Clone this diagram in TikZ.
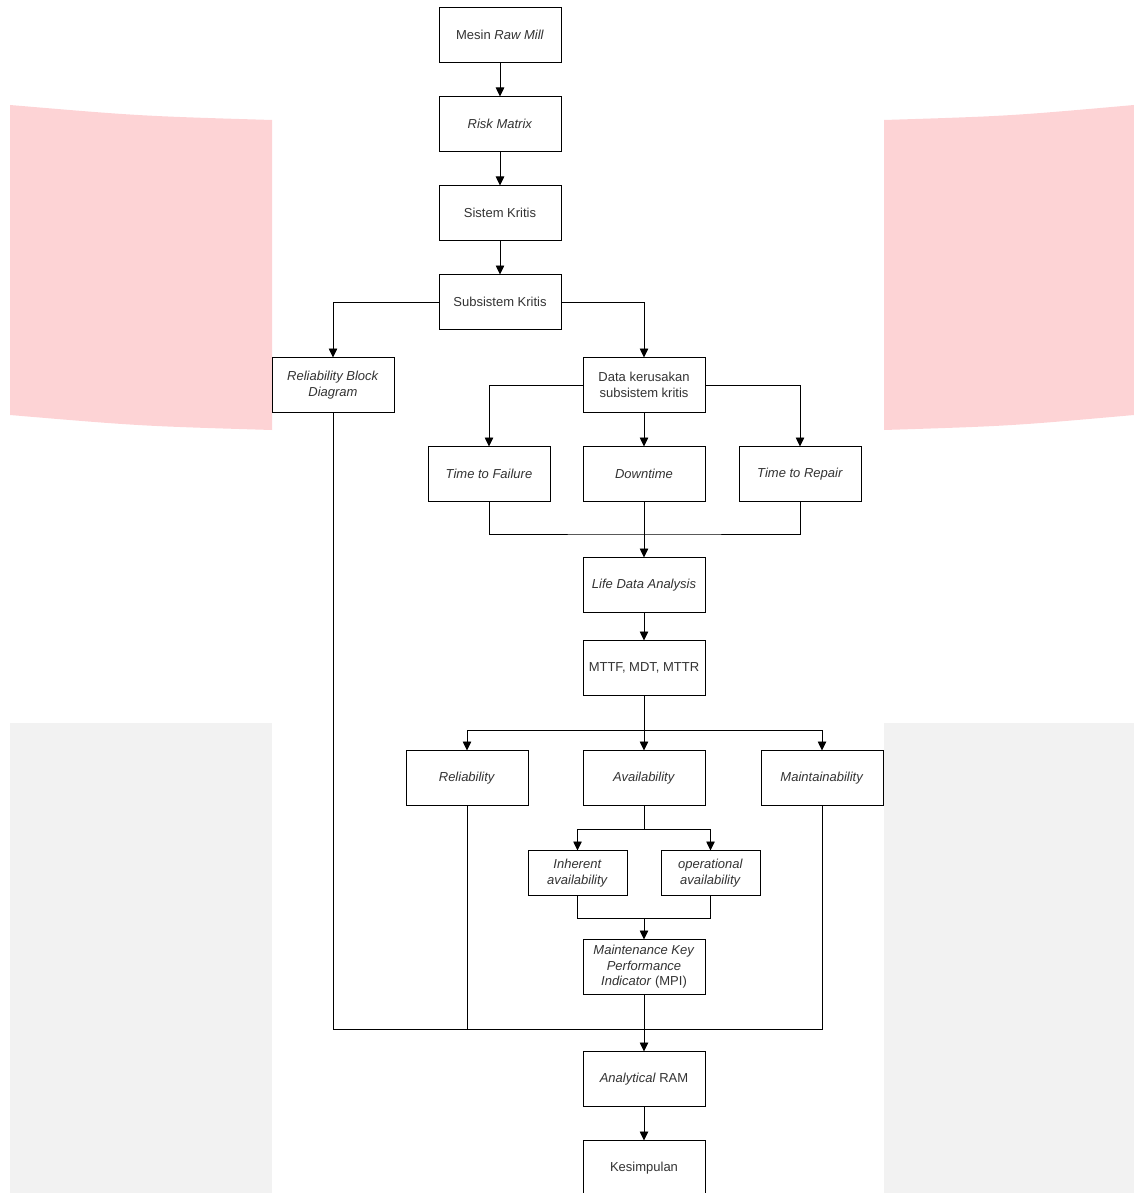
\documentclass[tikz,border=0pt]{standalone}
\usepackage{fontspec}
\setmainfont{Liberation Sans}
\usepackage{xcolor}
\usepackage{tikz}
\usetikzlibrary{positioning, arrows.meta}
\definecolor{rampink}{HTML}{FDD3D5}
\definecolor{ramgray}{HTML}{F2F2F2}
\definecolor{ramtext}{HTML}{333333}

\begin{document}
\begin{tikzpicture}[x=1pt, y=-1pt, node distance=34pt,
    box/.style={rectangle, draw, line width=0.8pt, fill=white, text=ramtext,
      font=\fontsize{13}{15.5}\selectfont, align=center, outer sep=0pt,
      minimum width=122pt, minimum height=55pt, inner sep=2pt},
    smallbox/.style={box, minimum width=99pt, minimum height=45pt},
    arr/.style={-{Triangle[length=9pt,width=8.5pt]}, line width=0.8pt},
    ln/.style={line width=0.8pt}]
  \clip (0,0) rectangle (1134,1193);
  % background bands
  \fill[rampink] (10,105) .. controls (140,116) .. (272,120) -- (272,430)
      .. controls (140,426) .. (10,415) -- cycle;
  \fill[rampink] (884,120) .. controls (1010,116) .. (1134,105) -- (1134,415)
      .. controls (1010,426) .. (884,430) -- cycle;
  \fill[ramgray] (10,723) rectangle (272,1193);
  \fill[ramgray] (884,723) rectangle (1134,1193);

  % main column
  \node[box] (mesin) at (500,35) {Mesin \textit{Raw Mill}};
  \node[box, below=of mesin] (risk) {\textit{Risk Matrix}};
  \node[box, below=of risk] (sistem) {Sistem Kritis};
  \node[box, below=of sistem] (subsis) {Subsistem Kritis};
  \node[box] (rbd) at (333,385) {\textit{Reliability Block}\\\textit{Diagram}};
  \node[box] (data) at (644,385) {Data kerusakan\\subsistem kritis};
  \node[box, below=of data] (down) {\textit{Downtime}};
  \node[box, left=33pt of down] (ttf) {\textit{Time to Failure}};
  \node[box, right=34pt of down] (ttr) {\textit{Time to Repair}};
  \node[box, below=56pt of down] (lda) {\textit{Life Data Analysis}};
  \node[box, below=28pt of lda] (mttf) {MTTF, MDT, MTTR};
  \node[box, below=55pt of mttf] (avail) {\textit{Availability}};
  \node[box, left=55pt of avail] (rel) {\textit{Reliability}};
  \node[box, right=56pt of avail] (maint) {\textit{Maintainability}};
  \node[smallbox, below=45pt of avail, xshift=-66.5pt] (inh) {\textit{Inherent}\\\textit{availability}};
  \node[smallbox, below=45pt of avail, xshift=66.5pt] (oper) {\textit{operational}\\\textit{availability}};
  \node[box, below=134pt of avail] (mpi) {\textit{Maintenance Key}\\\textit{Performance}\\\textit{Indicator} (MPI)};
  \node[box, below=57pt of mpi] (ram) {\textit{Analytical} RAM};
  \node[box, below=of ram] (kesim) {Kesimpulan};

  % junctions
  \coordinate (m1) at (644,534);
  \coordinate (b1) at (644,730);
  \coordinate (b2) at (644,829);
  \coordinate (m2) at (644,918);
  \coordinate (m3) at (644,1029);

  % connectors
  \draw[arr] (mesin) -- (risk);
  \draw[arr] (risk) -- (sistem);
  \draw[arr] (sistem) -- (subsis);
  \draw[arr] (subsis.west) -| (rbd.north);
  \draw[arr] (subsis.east) -| (data.north);
  \draw[arr] (data.west) -| (ttf.north);
  \draw[arr] (data) -- (down);
  \draw[arr] (data.east) -| (ttr.north);
  \draw[ln] (ttf.south) |- (m1) -| (ttr.south);
  \draw[arr] (down) -- (lda);
  \draw[arr] (lda) -- (mttf);
  \draw[ln] (mttf.south) -- (b1);
  \draw[arr] (b1) -| (rel.north);
  \draw[arr] (b1) -- (avail.north);
  \draw[arr] (b1) -| (maint.north);
  \draw[ln] (avail.south) -- (b2);
  \draw[arr] (b2) -| (inh.north);
  \draw[arr] (b2) -| (oper.north);
  \draw[ln] (inh.south) |- (m2) -| (oper.south);
  \draw[arr] (m2) -- (mpi.north);
  \draw[ln] (rbd.south) |- (m3) -| (maint.south);
  \draw[ln] (rel.south) -- (rel.south |- m3);
  \draw[arr] (mpi) -- (ram);
  \draw[arr] (ram) -- (kesim);
\end{tikzpicture}
\end{document}
